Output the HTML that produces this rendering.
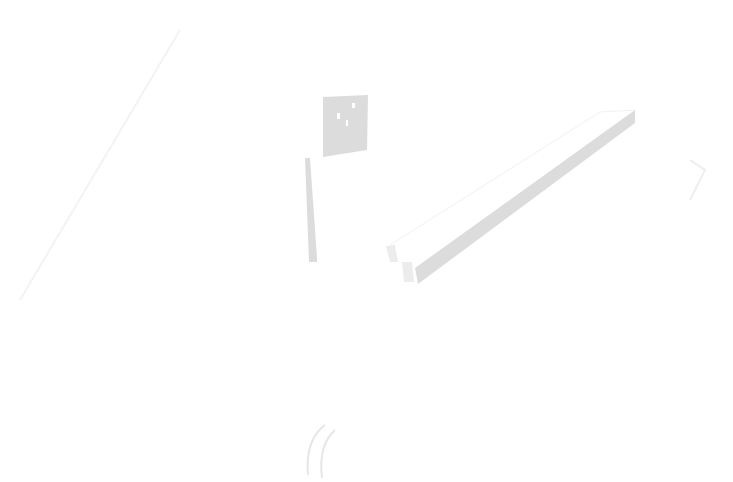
<!DOCTYPE html>
<html><head><style>html,body{margin:0;padding:0;background:#fff;width:733px;height:482px;overflow:hidden}</style></head>
<body>
<svg width="733" height="482" viewBox="0 0 733 482" xmlns="http://www.w3.org/2000/svg">
<rect width="733" height="482" fill="#fff"/>
<polygon points="323,97 368,95 367,150 323,157" fill="#dcdcdc"/>
<rect x="337" y="113" width="3" height="6" fill="#fff"/>
<rect x="352" y="103" width="3" height="5" fill="#fff"/>
<rect x="346" y="120" width="2" height="6" fill="#fff"/>
<polygon points="305,158 310,158 317,258 317,262 309,262" fill="#dcdcdc"/>
<polygon points="415,268 635,110 635,123 418,284" fill="#dcdcdc"/>
<polygon points="386,246 395,245 398,262 390,262" fill="#ececec"/>
<polygon points="402,262 412,262 414,282 404,282" fill="#ececec"/>
<polyline points="390,245 600,112 635,110" fill="none" stroke="#f2f2f2" stroke-width="1"/>
<path d="M20,300 L180,30" stroke="#f3f3f3" stroke-width="2" fill="none"/>
<path d="M325,425 Q305,440 308,475" stroke="#e6e6e6" stroke-width="2" fill="none"/>
<path d="M335,430 Q318,445 322,478" stroke="#e6e6e6" stroke-width="2" fill="none"/>
<path d="M690,160 L705,170 L690,200" stroke="#eeeeee" stroke-width="2" fill="none"/>
</svg>
</body></html>
